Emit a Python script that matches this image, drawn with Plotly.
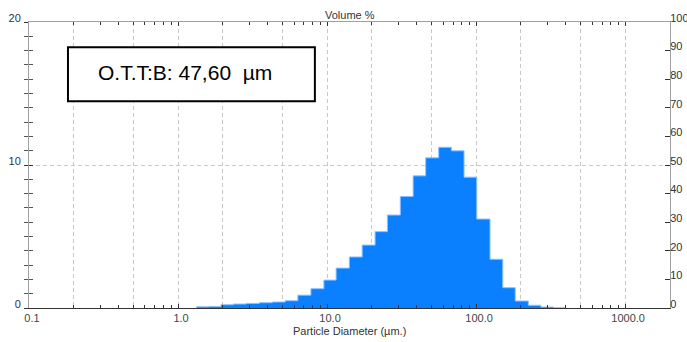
import plotly.graph_objects as go

# Bin edges (µm) and volume % per bin
bin_edges = [1.33, 1.61, 1.94, 2.35, 2.87, 3.51, 4.29, 5.24, 6.37, 7.79, 9.52,
             11.5, 14.1, 17.2, 21.0, 25.4, 31.0, 37.8, 45.9, 56.1, 68.2, 83.0,
             101, 124, 151, 183, 224, 272, 331, 400]
volume_pct = [0.08, 0.10, 0.23, 0.28, 0.32, 0.37, 0.42, 0.51, 0.90, 1.35, 1.95,
              2.79, 3.57, 4.40, 5.34, 6.50, 7.80, 9.24, 10.50, 11.24, 10.99,
              9.15, 6.22, 3.41, 1.42, 0.49, 0.19, 0.07, 0.02]

x_tickvals = [0.1, 1, 10, 100, 1000]
x_ticktext = ["0.1", "1.0", "10.0", "100.0", "1000.0"]
x_gridvals = [0.2, 0.5, 2, 5, 20, 50, 200, 500]
y_left_ticks = [0, 10, 20]
y_right_ticks = [0, 10, 20, 30, 40, 50, 60, 70, 80, 90, 100]
box_text = "O.T.T:B: 47,60\u00a0\u00a0µm"

FONT = "Liberation Sans, Arial, sans-serif"
GRID = "#c8c8c8"
DASH = "4px,3px"
XRANGE = [-1, 3.301]

step_x = [bin_edges[0]] + bin_edges
step_y = [0] + volume_pct + [0]

fig = go.Figure()
fig.add_trace(go.Scatter(
    x=step_x, y=step_y, mode="lines", line=dict(shape="hv", color="#8cc0ff", width=1),
    fill="tozeroy", fillcolor="#0a80ff", hoverinfo="skip", showlegend=False,
))

fig.update_layout(
    width=687, height=342,
    margin=dict(l=29, r=17, t=22, b=34, autoexpand=False),
    paper_bgcolor="white", plot_bgcolor="white",
    font=dict(family=FONT, size=11, color="#333333"),
    xaxis=dict(
        type="log", range=XRANGE, tickmode="array", tickvals=x_tickvals, ticktext=x_ticktext,
        showgrid=True, gridcolor=GRID, griddash=DASH, gridwidth=1,
        showline=True, linecolor="#333333", linewidth=1,
        ticks="", ticklabelshift=3, ticklabelstandoff=0, automargin=False,
        tickfont=dict(size=11, color="#444444"),
        minor=dict(tickmode="array", tickvals=x_gridvals, showgrid=True,
                   gridcolor=GRID, griddash=DASH, gridwidth=1, ticks=""),
        zeroline=False, fixedrange=True,
    ),
    xaxis2=dict(
        type="log", range=XRANGE, overlaying="x", side="top", anchor="y",
        showline=True, linecolor="#a0a0a0", linewidth=1, automargin=False,
        tickmode="array", tickvals=x_tickvals, ticks="inside", ticklen=4,
        tickcolor="#333333", showticklabels=False, showgrid=False,
        minor=dict(dtick="D1", ticks="inside", ticklen=3, tickcolor="#333333", showgrid=False),
    ),
    xaxis3=dict(
        type="log", range=XRANGE, overlaying="x", side="bottom", anchor="y",
        showline=False, automargin=False,
        tickmode="array", tickvals=x_tickvals, ticks="inside", ticklen=4,
        tickcolor="#333333", showticklabels=False, showgrid=False,
        minor=dict(dtick="D1", ticks="inside", ticklen=3, tickcolor="#333333", showgrid=False),
    ),
    yaxis=dict(
        range=[0, 20], tickmode="array", tickvals=y_left_ticks,
        showgrid=True, gridcolor=GRID, griddash=DASH, gridwidth=1,
        showline=True, linecolor="#a0a0a0", linewidth=1, automargin=False,
        ticks="outside", ticklen=4, tickcolor="#333333",
        minor=dict(dtick=1, ticks="outside", ticklen=4, tickcolor="#555555", showgrid=False),
        ticklabelshift=-4, ticklabelstandoff=1,
        tickfont=dict(size=11, color="#333333"),
        zeroline=False, fixedrange=True,
    ),
    yaxis3=dict(
        range=[0, 20], overlaying="y", side="left", anchor="x", automargin=False,
        tickmode="array", tickvals=y_left_ticks, ticks="inside", ticklen=4,
        tickcolor="#333333", showticklabels=False, showgrid=False, showline=False,
        minor=dict(dtick=1, ticks="inside", ticklen=4, tickcolor="#555555", showgrid=False),
        zeroline=False,
    ),
    yaxis2=dict(
        range=[0, 100], overlaying="y", side="right", anchor="x", automargin=False,
        tickmode="array", tickvals=y_right_ticks, ticks="inside", ticklen=5,
        tickcolor="#333333", showgrid=False,
        showline=True, linecolor="#a0a0a0", linewidth=1,
        ticklabelshift=-4, ticklabelstandoff=-3,
        tickfont=dict(size=11, color="#333333"),
        zeroline=False,
    ),
    shapes=[dict(type="rect", xref="paper", yref="paper",
                 x0=0.0608, x1=0.446, y0=0.723, y1=0.9116,
                 line=dict(color="black", width=2), fillcolor="white", layer="above")],
    annotations=[
        dict(text=box_text, xref="paper", yref="paper", x=0.2426, y=0.8226,
             xanchor="center", yanchor="middle", showarrow=False,
             font=dict(family=FONT, size=21, color="black")),
        dict(text="Volume %", xref="paper", yref="paper", x=0.5, y=1.024,
             xanchor="center", yanchor="middle", showarrow=False,
             font=dict(family=FONT, size=11, color="#333333")),
        dict(text="Particle Diameter (µm.)", xref="paper", yref="paper", x=0.5, y=-0.079,
             xanchor="center", yanchor="middle", showarrow=False,
             font=dict(family=FONT, size=11, color="#333333")),
    ],
)

# attach overlay traces so overlay axes render
fig.add_trace(go.Scatter(x=[1], y=[0], xaxis="x2", yaxis="y2", mode="markers",
                         marker=dict(opacity=0), hoverinfo="skip", showlegend=False))
fig.add_trace(go.Scatter(x=[1], y=[0], xaxis="x3", yaxis="y3", mode="markers",
                         marker=dict(opacity=0), hoverinfo="skip", showlegend=False))

fig.write_html(
    "out.html",
    config={"displayModeBar": False},
    post_script="document.body.style.margin='0';document.body.style.overflow='hidden';",
)
